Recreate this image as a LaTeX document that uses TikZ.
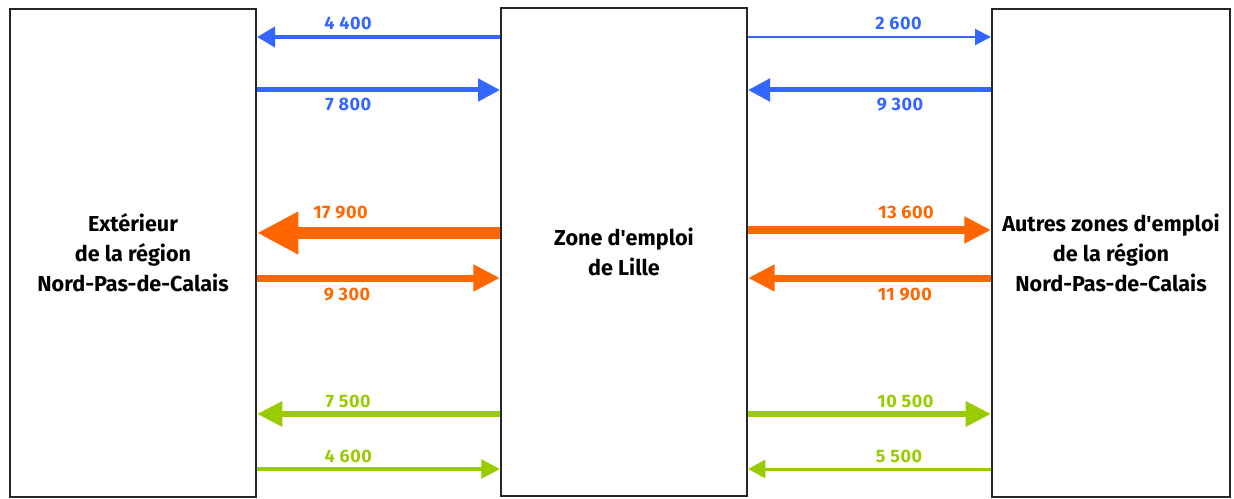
\documentclass[tikz,border=0pt]{standalone}
\usepackage{fontspec}
\setmainfont{Fira Sans}
\usetikzlibrary{arrows.meta}
\definecolor{fluxblue}{HTML}{3366FF}
\definecolor{fluxorange}{HTML}{FF6600}
\definecolor{fluxgreen}{HTML}{99CC00}
\tikzstyle{zone} = [
    rectangle,
    draw=black!85,
    line width=1.5pt,
    fill=white,
    align=center,
    font=\bfseries\fontsize{16.2}{22.5}\selectfont
    ]
\tikzset{
    flux/.style n args={3}{line width=#1, >={Triangle[length=#2, width=#3]}},
    lab/.style={font=\fontsize{13.5}{15}\selectfont\bfseries\addfontfeature{LetterSpace=3}, inner sep=0pt},
    labl/.style={lab, pos=0.52, anchor=base east},
    labr/.style={lab, pos=0.52, anchor=base west}
}

\begin{document}
\begin{tikzpicture}[x=0.75pt, y=-0.75pt]
        \useasboundingbox (0,0) rectangle (1234,499);

        \node (ext) [zone, minimum width=184.5pt, minimum height=366pt] at (133,253)
            {Extérieur\\de la région\\Nord-Pas-de-Calais};
        \node (lille) [zone, minimum width=184.5pt, minimum height=366pt] at (624,252)
            {Zone d\textquotesingle emploi\\de Lille};
        \node (autres) [zone, minimum width=178.5pt, minimum height=366pt] at (1111,253)
            {Autres zones d\textquotesingle emploi\\de la région\\Nord-Pas-de-Calais};

        % rows
        \coordinate (r1) at (0,37);
        \coordinate (r2) at (0,90);
        \coordinate (r3) at (0,233);
        \coordinate (r4) at (0,278);
        \coordinate (r5) at (0,230);
        \coordinate (r6) at (0,414);
        \coordinate (r7) at (0,469);

        % left flows
        \draw[fluxblue, flux={3pt}{13.5pt}{15pt}, ->] (lille.west |- r1) -- node[labl, yshift=5.25pt] {4 400} (ext.east |- r1);
        \draw[fluxblue, flux={3.75pt}{16.5pt}{16.5pt}, <-] (lille.west |- r2) -- node[labl, yshift=-15.75pt] {7 800} (ext.east |- r2);
        \draw[fluxorange, flux={9pt}{31pt}{30pt}, ->] (lille.west |- r3) -- node[labl, yshift=11pt] {17 900} (ext.east |- r3);
        \draw[fluxorange, flux={5.25pt}{20pt}{19pt}, <-] (lille.west |- r4) -- node[labl, yshift=-16.5pt] {9 300} (ext.east |- r4);
        \draw[fluxgreen, flux={4.5pt}{19pt}{18pt}, ->] (lille.west |- r6) -- node[labl, yshift=5.25pt] {7 500} (ext.east |- r6);
        \draw[fluxgreen, flux={2.6pt}{14pt}{14pt}, <-] (lille.west |- r7) -- node[labl, yshift=5.25pt] {4 600} (ext.east |- r7);

        % right flows
        \draw[fluxblue, flux={1.5pt}{12pt}{12pt}, ->] (lille.east |- r1) -- node[labr, yshift=5.25pt] {2 600} (autres.west |- r1);
        \draw[fluxblue, flux={3.75pt}{16.5pt}{16.5pt}, <-] (lille.east |- r2) -- node[labr, yshift=-15.75pt] {9 300} (autres.west |- r2);
        \draw[fluxorange, flux={6pt}{20pt}{19pt}, ->] (lille.east |- r5) -- node[labr, yshift=9pt] {13 600} (autres.west |- r5);
        \draw[fluxorange, flux={5.25pt}{20pt}{19pt}, <-] (lille.east |- r4) -- node[labr, yshift=-16.5pt] {11 900} (autres.west |- r4);
        \draw[fluxgreen, flux={4.5pt}{19pt}{18pt}, ->] (lille.east |- r6) -- node[labr, yshift=5.25pt] {10 500} (autres.west |- r6);
        \draw[fluxgreen, flux={2.25pt}{13pt}{13.5pt}, <-] (lille.east |- r7) -- node[labr, yshift=5.25pt] {5 500} (autres.west |- r7);

    \end{tikzpicture}
\end{document}
